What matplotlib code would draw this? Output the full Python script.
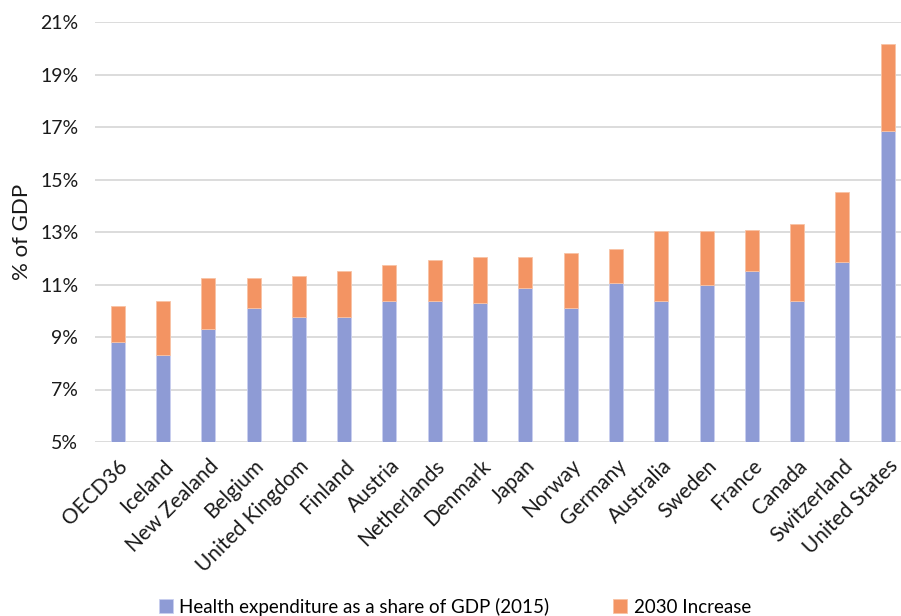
import numpy as np
import matplotlib
matplotlib.use("Agg")
from matplotlib import pyplot as plt
from matplotlib.ticker import FuncFormatter

# health spending as % of GDP: 2015 level and projected increase to 2030
countries = ['OECD36', 'Iceland', 'New Zealand', 'Belgium', 'United Kingdom',
             'Finland', 'Austria', 'Netherlands', 'Denmark', 'Japan', 'Norway',
             'Germany', 'Australia', 'Sweden', 'France', 'Canada',
             'Switzerland', 'United States']
share_2015 = [8.80, 8.33, 9.29, 10.09, 9.75, 9.75, 10.36, 10.36, 10.30, 10.85,
              10.09, 11.05, 10.37, 10.97, 11.53, 10.36, 11.87, 16.84]
increase_2030 = [1.37, 2.04, 1.96, 1.16, 1.57, 1.78, 1.37, 1.57, 1.76, 1.21,
                 2.12, 1.29, 2.66, 2.06, 1.56, 2.94, 2.64, 3.32]

plt.rcParams['font.family'] = ['Lato', 'DejaVu Sans']

blue = '#8e9bd5'
orange = '#f39463'

fig = plt.figure(figsize=(9.01, 6.16), dpi=100)
ax = fig.add_axes([95 / 901, 174 / 616, 806 / 901, 420 / 616])

x = np.arange(len(countries))
ax.bar(x, share_2015, width=0.31, color=blue, edgecolor='#c9cff0', linewidth=0.6,
       label='Health expenditure as a share of GDP (2015)', zorder=3)
ax.bar(x, increase_2030, width=0.31, bottom=share_2015, color=orange,
       edgecolor='#f8c3a5', linewidth=0.6, label='2030 Increase', zorder=3)

ax.set_ylim(5, 21)
ax.set_xlim(-0.5, -0.5 + 806 / 45.3)
ax.set_yticks(np.arange(5, 22, 2))
ax.yaxis.set_major_formatter(FuncFormatter(lambda v, p: '%d%%' % v))
ax.grid(axis='y', color='#d9d9d9', linewidth=1.3, zorder=0)
for s in ax.spines.values():
    s.set_visible(False)
ax.tick_params(length=0, labelsize=14, colors='#1a1a1a')
ax.tick_params(axis='y', pad=12)

ax.set_xticks(x)
ax.set_xticklabels(countries, rotation=45, ha='right', rotation_mode='anchor',
                   fontsize=15)
ax.tick_params(axis='x', pad=10)
ax.set_ylabel('% of GDP', fontsize=16, color='#1a1a1a', labelpad=6)

fig.legend(loc='lower center', bbox_to_anchor=(0.505, -0.027), ncol=2,
           frameon=False, fontsize=13.5, handlelength=0.75, handleheight=0.75,
           handletextpad=0.35, columnspacing=3.4)

fig.savefig('out.png', dpi=100)
